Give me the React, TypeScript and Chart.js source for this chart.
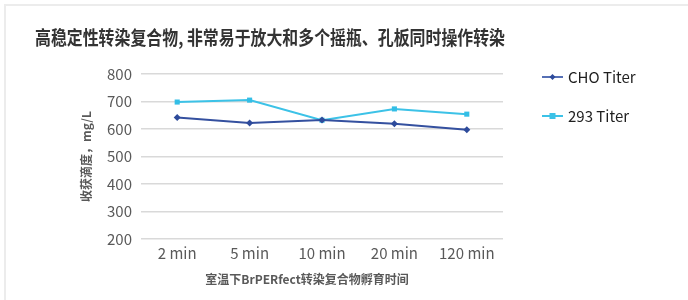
import React, { useEffect, useRef } from "react";
import { Chart, registerables } from "chart.js";

Chart.register(...registerables);

const categories = ["2 min", "5 min", "10 min", "20 min", "120 min"];
const choTiter = [642, 622, 633, 619, 597];
const t293Titer = [698, 705, 632, 673, 654];
const yTicks = [200, 300, 400, 500, 600, 700, 800];

const chartTitle = "高稳定性转染复合物, 非常易于放大和多个摇瓶、孔板同时操作转染";
const xTitle = "室温下BrPERfect转染复合物孵育时间";
const yTitle = "收获滴度，mg/L";
const seriesNames = ["CHO Titer", "293 Titer"];

const CHO_COLOR = "#2E4B9B";
const C293_COLOR = "#3CC2E7";
const FONT = '"Noto Sans CJK SC", "Noto Sans", sans-serif';

const decorPlugin = {
  id: "decor",
  afterDraw(chart: any) {
    const ctx = chart.ctx as CanvasRenderingContext2D;
    const area = chart.chartArea;
    ctx.save();
    // main title (condensed)
    ctx.save();
    ctx.fillStyle = "#333333";
    ctx.font = `bold 19px ${FONT}`;
    ctx.textAlign = "center";
    ctx.textBaseline = "middle";
    ctx.translate(270, 38);
    const w = ctx.measureText(chartTitle).width;
    const sx = 470 / w;
    ctx.scale(sx, 1);
    ctx.fillText(chartTitle, 0, 0);
    ctx.restore();

    // x axis title
    ctx.fillStyle = "#595959";
    ctx.font = `bold 12px ${FONT}`;
    ctx.textAlign = "center";
    ctx.textBaseline = "middle";
    ctx.fillText(xTitle, 307, 279);

    // y axis title
    ctx.save();
    ctx.translate(86, (area.top + area.bottom) / 2);
    ctx.rotate(-Math.PI / 2);
    ctx.fillText(yTitle, 0, 0);
    ctx.restore();

    // legend
    const items = [
      { name: seriesNames[0], color: CHO_COLOR, y: 77, style: "diamond" },
      { name: seriesNames[1], color: C293_COLOR, y: 116, style: "square" },
    ];
    items.forEach((it) => {
      ctx.strokeStyle = it.style === "diamond" ? "#5670B5" : it.color;
      ctx.lineWidth = 2;
      ctx.beginPath();
      ctx.moveTo(542, it.y);
      ctx.lineTo(563, it.y);
      ctx.stroke();
      ctx.fillStyle = it.color;
      if (it.style === "diamond") {
        ctx.beginPath();
        ctx.moveTo(552.5, it.y - 3);
        ctx.lineTo(555.5, it.y);
        ctx.lineTo(552.5, it.y + 3);
        ctx.lineTo(549.5, it.y);
        ctx.closePath();
        ctx.fill();
      } else {
        ctx.fillRect(549.5, it.y - 3, 6, 6);
      }
      ctx.fillStyle = "#1f1f1f";
      ctx.font = `15px ${FONT}`;
      ctx.textAlign = "left";
      ctx.textBaseline = "middle";
      ctx.fillText(it.name, 568, it.y);
    });
    ctx.restore();
  },
};

export default function App() {
  const ref = useRef<HTMLCanvasElement | null>(null);

  useEffect(() => {
    if (!ref.current) return;
    const chart = new Chart(ref.current, {
      type: "line",
      data: {
        labels: categories,
        datasets: [
          {
            label: seriesNames[0],
            data: choTiter,
            borderColor: "#34509F",
            backgroundColor: CHO_COLOR,
            borderWidth: 2,
            pointStyle: "rectRot",
            pointRadius: 3.5,
            pointBorderWidth: 0,
            pointBackgroundColor: CHO_COLOR,
            tension: 0,
          },
          {
            label: seriesNames[1],
            data: t293Titer,
            borderColor: C293_COLOR,
            backgroundColor: C293_COLOR,
            borderWidth: 2,
            pointStyle: "rect",
            pointRadius: 3.6,
            pointBorderWidth: 0,
            pointBackgroundColor: "#33BEE6",
            tension: 0,
          },
        ],
      },
      options: {
        animation: false,
        responsive: false,
        maintainAspectRatio: false,
        layout: { padding: { left: 0, top: 74, right: 185, bottom: 0 } },
        plugins: {
          legend: { display: false },
          title: { display: false },
          tooltip: { enabled: false },
        },
        scales: {
          x: {
            offset: true,
            grid: { display: false, drawTicks: false },
            border: { display: false },
            ticks: {
              color: "#595959",
              font: { family: FONT, size: 15 },
              padding: 5,
              maxRotation: 0,
            },
            afterFit(scale: any) {
              scale.height = 61;
            },
          },
          y: {
            min: 200,
            max: 800,
            afterBuildTicks(scale: any) {
              scale.ticks = yTicks.map((v) => ({ value: v }));
            },
            grid: { color: "#d9d9d9", lineWidth: 1.5, drawTicks: false },
            border: { display: false },
            ticks: {
              color: "#595959",
              font: { family: FONT, size: 15 },
              padding: 9,
            },
            afterFit(scale: any) {
              scale.width = 141;
            },
          },
        },
      },
      plugins: [decorPlugin],
    });
    return () => chart.destroy();
  }, []);

  return (
    <div
      style={{
        position: "fixed",
        left: 0,
        top: 0,
        width: 688,
        height: 300,
        background: "#fff",
      }}
    >
      <div
        style={{
          position: "absolute",
          left: 4,
          top: 4,
          right: 0,
          bottom: 0,
          borderTop: "2px solid #ececec",
          borderLeft: "2px solid #ececec",
        }}
      />
      <canvas
        ref={ref}
        width={688}
        height={300}
        style={{ position: "absolute", left: 0, top: 0, width: 688, height: 300 }}
      />
    </div>
  );
}
